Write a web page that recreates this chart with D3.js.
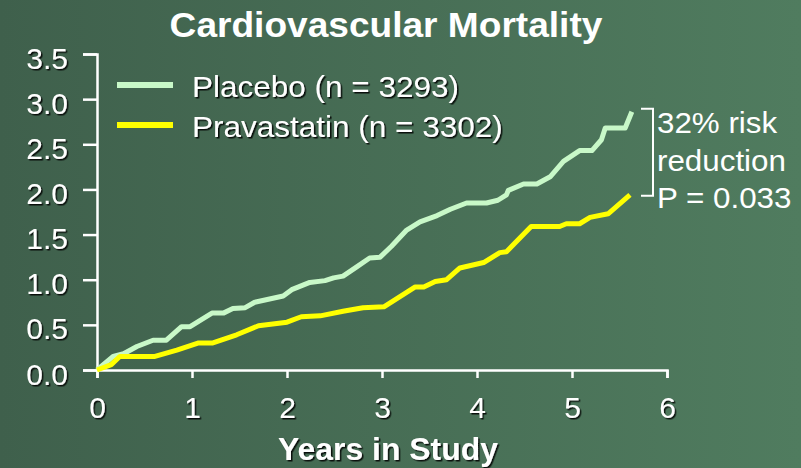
<!DOCTYPE html>
<html lang="en">
<head>
  <meta charset="UTF-8">
  <title>Cardiovascular Mortality</title>
  <style>
    body { margin: 0; background: #4a6f57; }
    svg text { font-family: "Liberation Sans", Arial, sans-serif; fill: #fff; }
    .axis path, .axis line { stroke: #fff; stroke-width: 2.5; fill: none; }
    .axis text { font-size: 30px; }
    .series { fill: none; stroke-width: 5; stroke-linejoin: round; }
  </style>
</head>
<body>
<div id="chart"></div>
<script src="https://d3js.org/d3.v7.min.js"></script>
<script>
  // Values (years, cumulative %)
  const placeboYears = [0, 0.17, 0.28, 0.42, 0.59, 0.73, 0.89, 0.98, 1.21, 1.33, 1.43, 1.56, 1.66, 1.96, 2.05, 2.24, 2.40, 2.49, 2.59, 2.73, 2.87, 2.98, 3.10, 3.26, 3.40, 3.58, 3.72, 3.89, 4.10, 4.22, 4.31, 4.33, 4.49, 4.63, 4.77, 4.91, 5.08, 5.21, 5.31, 5.35, 5.56, 5.63];
  const placeboRate  = [0, 0.15, 0.18, 0.26, 0.33, 0.33, 0.48, 0.48, 0.63, 0.63, 0.68, 0.69, 0.75, 0.82, 0.89, 0.97, 0.99, 1.02, 1.04, 1.14, 1.24, 1.25, 1.37, 1.55, 1.64, 1.71, 1.78, 1.85, 1.85, 1.88, 1.94, 1.99, 2.06, 2.06, 2.14, 2.31, 2.43, 2.43, 2.55, 2.68, 2.68, 2.86];
  const pravaYears = [0, 0.15, 0.24, 0.61, 0.84, 1.07, 1.22, 1.47, 1.70, 2.00, 2.15, 2.35, 2.59, 2.80, 3.02, 3.35, 3.44, 3.56, 3.68, 3.82, 4.07, 4.24, 4.31, 4.57, 4.87, 4.94, 5.08, 5.19, 5.38, 5.61];
  const pravaRate  = [0, 0.06, 0.15, 0.15, 0.22, 0.30, 0.30, 0.39, 0.49, 0.53, 0.59, 0.60, 0.65, 0.69, 0.70, 0.92, 0.92, 0.98, 1.00, 1.13, 1.19, 1.30, 1.31, 1.59, 1.59, 1.62, 1.62, 1.69, 1.73, 1.94];

  const seriesNames  = ["Placebo (n = 3293)", "Pravastatin (n = 3302)"];
  const seriesColors = ["#c8f8c8", "#ffff00"];
  const xTicks = [0, 1, 2, 3, 4, 5, 6];
  const yTicks = [0, 0.5, 1, 1.5, 2, 2.5, 3, 3.5];
  const noteLines = ["32% risk", "reduction", "P = 0.033"];

  const W = 801, H = 468;
  const svg = d3.select("#chart").append("svg")
    .attr("width", W).attr("height", H);

  const defs = svg.append("defs");
  const grad = defs.append("linearGradient").attr("id", "bg")
    .attr("x1", "0").attr("x2", "1").attr("y1", "0").attr("y2", "0");
  grad.append("stop").attr("offset", "0").attr("stop-color", "#3f604c");
  grad.append("stop").attr("offset", "1").attr("stop-color", "#507c5f");
  const shadow = defs.append("filter").attr("id", "shadow")
    .attr("x", "-10%").attr("y", "-10%").attr("width", "130%").attr("height", "140%");
  shadow.append("feDropShadow").attr("dx", 1.5).attr("dy", 1.5)
    .attr("stdDeviation", 0.4).attr("flood-color", "#000").attr("flood-opacity", 0.85);

  svg.append("rect").attr("width", W).attr("height", H).attr("fill", "url(#bg)");

  const x = d3.scaleLinear().domain([0, 6]).range([97, 667]);
  const y = d3.scaleLinear().domain([0, 3.5]).range([370, 54]);

  // the slide's text is a little wider than Arial, so stretch it sideways
  function label(g, tx, ty, sx, str) {
    return g.append("text")
      .attr("transform", `translate(${tx},${ty}) scale(${sx},1)`)
      .text(str);
  }

  // axes
  const yAxis = svg.append("g").attr("class", "axis")
    .attr("transform", `translate(${x(0)},0)`)
    .call(d3.axisLeft(y).tickValues(yTicks).tickSize(14).tickPadding(15).tickFormat(d3.format(".1f")));
  yAxis.selectAll("text").attr("dy", "0.47em").attr("filter", "url(#shadow)");

  const xAxis = svg.append("g").attr("class", "axis")
    .attr("transform", `translate(0,${y(0)})`)
    .call(d3.axisBottom(x).tickValues(xTicks).tickSize(8).tickPadding(19).tickFormat(d3.format("d")));
  xAxis.selectAll("text").attr("filter", "url(#shadow)");

  // lines
  const line = d3.line().x(d => x(d[0])).y(d => y(d[1]));
  const series = [
    d3.zip(placeboYears, placeboRate),
    d3.zip(pravaYears, pravaRate)
  ];
  svg.selectAll("path.series").data(series).join("path")
    .attr("class", "series")
    .attr("stroke", (d, i) => seriesColors[i])
    .attr("d", line);

  // title
  label(svg, 386, 37, 1.06, "Cardiovascular Mortality")
    .attr("text-anchor", "middle").attr("font-size", 35).attr("font-weight", "bold");

  // x axis title
  label(svg, 388, 460, 1.03, "Years in Study")
    .attr("text-anchor", "middle").attr("font-size", 31).attr("font-weight", "bold")
    .attr("filter", "url(#shadow)");

  // legend
  const legend = svg.append("g");
  seriesNames.forEach((name, i) => {
    const ly = 85 + i * 40;
    legend.append("line").attr("x1", 117).attr("x2", 173).attr("y1", ly).attr("y2", ly)
      .attr("stroke", seriesColors[i]).attr("stroke-width", 6);
    label(legend, 192, ly + 12, 1.05, name)
      .attr("font-size", 30).attr("filter", "url(#shadow)");
  });

  // bracket between end values
  const yTop = y(placeboRate[placeboRate.length - 1]) - 3;
  const yBot = y(pravaRate[pravaRate.length - 1]) + 1;
  const bx = 653;
  svg.append("path")
    .attr("d", `M${bx - 12},${yTop}H${bx}V${yBot}H${bx - 12}`)
    .attr("fill", "none").attr("stroke", "#fff").attr("stroke-width", 2);
  noteLines.forEach((s, i) => {
    label(svg, 657, 133 + i * 37.5, 1.045, s).attr("font-size", 30);
  });
</script>
</body>
</html>
